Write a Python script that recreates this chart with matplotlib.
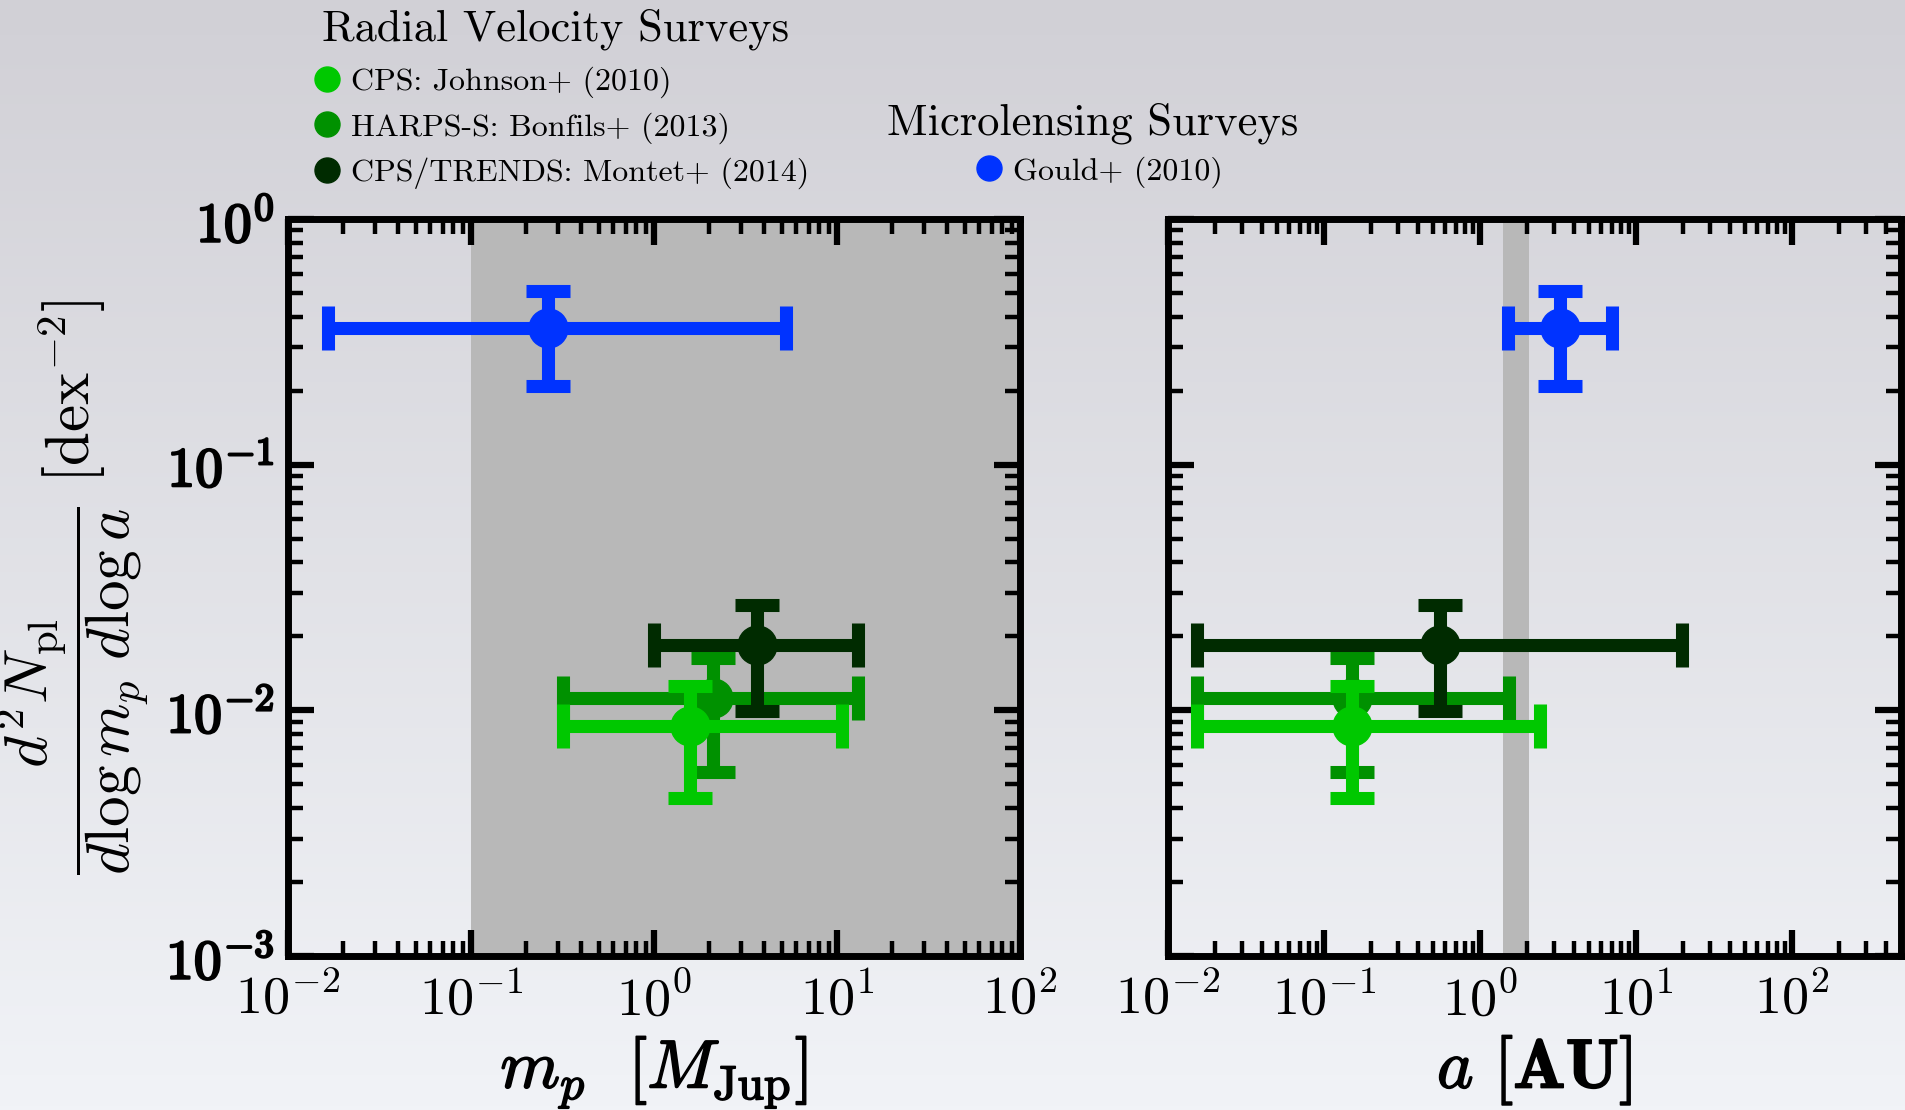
import numpy as np
import matplotlib
matplotlib.use('Agg')
import matplotlib.pyplot as plt
import matplotlib.patheffects as pe
from matplotlib.lines import Line2D
from matplotlib.ticker import LogLocator, NullFormatter, FixedLocator, FixedFormatter

plt.rcParams['font.family'] = 'serif'
plt.rcParams['font.serif'] = ['cmr10']
plt.rcParams['mathtext.fontset'] = 'cm'
plt.rcParams['axes.formatter.use_mathtext'] = True

# surveys, in drawing order
surveys = ['HARPS-S: Bonfils+ (2013)', 'CPS: Johnson+ (2010)',
           'CPS/TRENDS: Montet+ (2014)', 'Gould+ (2010)']
colors = ['#009100', '#00c800', '#002b00', '#0033ff']

# planet occurrence [dex^-2]
freq = [0.0112, 0.0086, 0.0185, 0.36]
freq_lo = [0.0056, 0.0044, 0.0099, 0.21]
freq_hi = [0.0163, 0.0126, 0.0269, 0.51]

# planet mass [M_Jup]
mass = [2.1, 1.57, 3.66, 0.264]
mass_lo = [0.318, 0.318, 1.0, 0.0165]
mass_hi = [13.0, 10.6, 13.0, 5.26]

# semimajor axis [AU]
sma = [0.151, 0.151, 0.555, 3.26]
sma_lo = [0.0153, 0.0153, 0.0153, 1.52]
sma_hi = [1.53, 2.43, 19.7, 7.0]

mass_shade = (0.1, 100.)
sma_shade = (1.4, 2.05)

W, H = 1905, 1110
fig = plt.figure(figsize=(W/100., H/100.), dpi=100)

# slide-like gradient background
bg = fig.add_axes([0, 0, 1, 1], zorder=-10)
grad = np.linspace(0, 1, 256)[:, None]
top = np.array([209, 208, 214]) / 255.
bot = np.array([241, 243, 247]) / 255.
img = top[None, None, :] * (1 - grad[:, :, None]) + bot[None, None, :] * grad[:, :, None]
bg.imshow(img, aspect='auto', extent=[0, 1, 0, 1])
bg.axis('off')

ax1 = fig.add_axes([288/W, 1 - 956/H, 732/W, 737/H])
ax2 = fig.add_axes([1168/W, 1 - 956/H, 733/W, 737/H])

ytick_vals = [1e-3, 1e-2, 1e-1, 1e0]
ytick_labs = [r'$\mathbf{10^{-3}}$', r'$\mathbf{10^{-2}}$',
              r'$\mathbf{10^{-1}}$', r'$\mathbf{10^{0}}$']

def plot_panel(ax, xs, xlo, xhi):
    for i in range(len(surveys)):
        ax.errorbar([xs[i]], [freq[i]],
                    xerr=[[xs[i] - xlo[i]], [xhi[i] - xs[i]]],
                    yerr=[[freq[i] - freq_lo[i]], [freq_hi[i] - freq[i]]],
                    fmt='o', color=colors[i], ms=28, elinewidth=9.4,
                    capsize=15.5, capthick=9.4, zorder=3 + i)
    ax.set_xscale('log')
    ax.set_yscale('log')
    ax.set_ylim(1e-3, 1e0)
    ax.set_facecolor('none')
    for s in ax.spines.values():
        s.set_linewidth(5)
    ax.tick_params(which='both', direction='in', top=True, right=True)
    ax.tick_params(which='major', length=19, width=4.5, labelsize=39, pad=12)
    ax.tick_params(which='minor', length=11, width=3.2)
    ax.xaxis.set_major_locator(LogLocator(base=10, numticks=20))
    ax.xaxis.set_minor_locator(LogLocator(base=10, subs=np.arange(2, 10), numticks=20))
    ax.xaxis.set_minor_formatter(NullFormatter())
    ax.yaxis.set_major_locator(FixedLocator(ytick_vals))
    ax.yaxis.set_minor_locator(LogLocator(base=10, subs=np.arange(2, 10), numticks=20))
    ax.yaxis.set_minor_formatter(NullFormatter())

heavy = [pe.withStroke(linewidth=1.7, foreground='black')]

plot_panel(ax1, mass, mass_lo, mass_hi)
ax1.axvspan(*mass_shade, color='#b8b8b8', zorder=0, lw=0)
ax1.set_xlim(1e-2, 1e2)
ax1.yaxis.set_major_formatter(FixedFormatter(ytick_labs))
ax1.tick_params(axis='y', which='major', labelsize=40, pad=10)
for t in ax1.get_yticklabels():
    t.set_path_effects(heavy)
ax1.set_xlabel(r'$m_p\ \ [M_{\rm Jup}]$', fontsize=49, labelpad=6,
               path_effects=[pe.withStroke(linewidth=1.2, foreground='black')])
ax1.set_ylabel(r'$\dfrac{d^2N_{\rm pl}}{d\log m_p\ d\log a}\ [{\rm dex}^{-2}]$',
               fontsize=44)
ax1.yaxis.set_label_coords(-0.188, 0.5)

plot_panel(ax2, sma, sma_lo, sma_hi)
ax2.axvspan(*sma_shade, color='#b8b8b8', zorder=0, lw=0)
ax2.set_xlim(1e-2, 5e2)
ax2.tick_params(axis='y', labelleft=False)
ax2.set_xlabel(r'$a\ [\mathbf{AU}]$', fontsize=50, labelpad=6,
               path_effects=[pe.withStroke(linewidth=1.2, foreground='black')])

# legends
def handle(c):
    return Line2D([], [], ls='none', marker='o', ms=18, color=c)

fig.text(322/W, 1 - 41/H, 'Radial Velocity Surveys', fontsize=32,
         ha='left', va='baseline')
fig.text(1093/W, 1 - 135/H, 'Microlensing Surveys', fontsize=32,
         ha='center', va='baseline')

rv_idx = [1, 0, 2]
leg1 = fig.legend([handle(colors[i]) for i in rv_idx], [surveys[i] for i in rv_idx],
                  fontsize=23, loc='center left', bbox_to_anchor=(311/W, 1 - 128/H),
                  frameon=False, handlelength=1.0, handletextpad=0.25,
                  borderpad=0, borderaxespad=0, labelspacing=0.43)
leg2 = fig.legend([handle(colors[3])], [surveys[3]],
                  fontsize=23, loc='center left', bbox_to_anchor=(973/W, 1 - 172/H),
                  frameon=False, handlelength=1.0, handletextpad=0.25,
                  borderpad=0, borderaxespad=0)

fig.savefig('out.png', dpi=100)
